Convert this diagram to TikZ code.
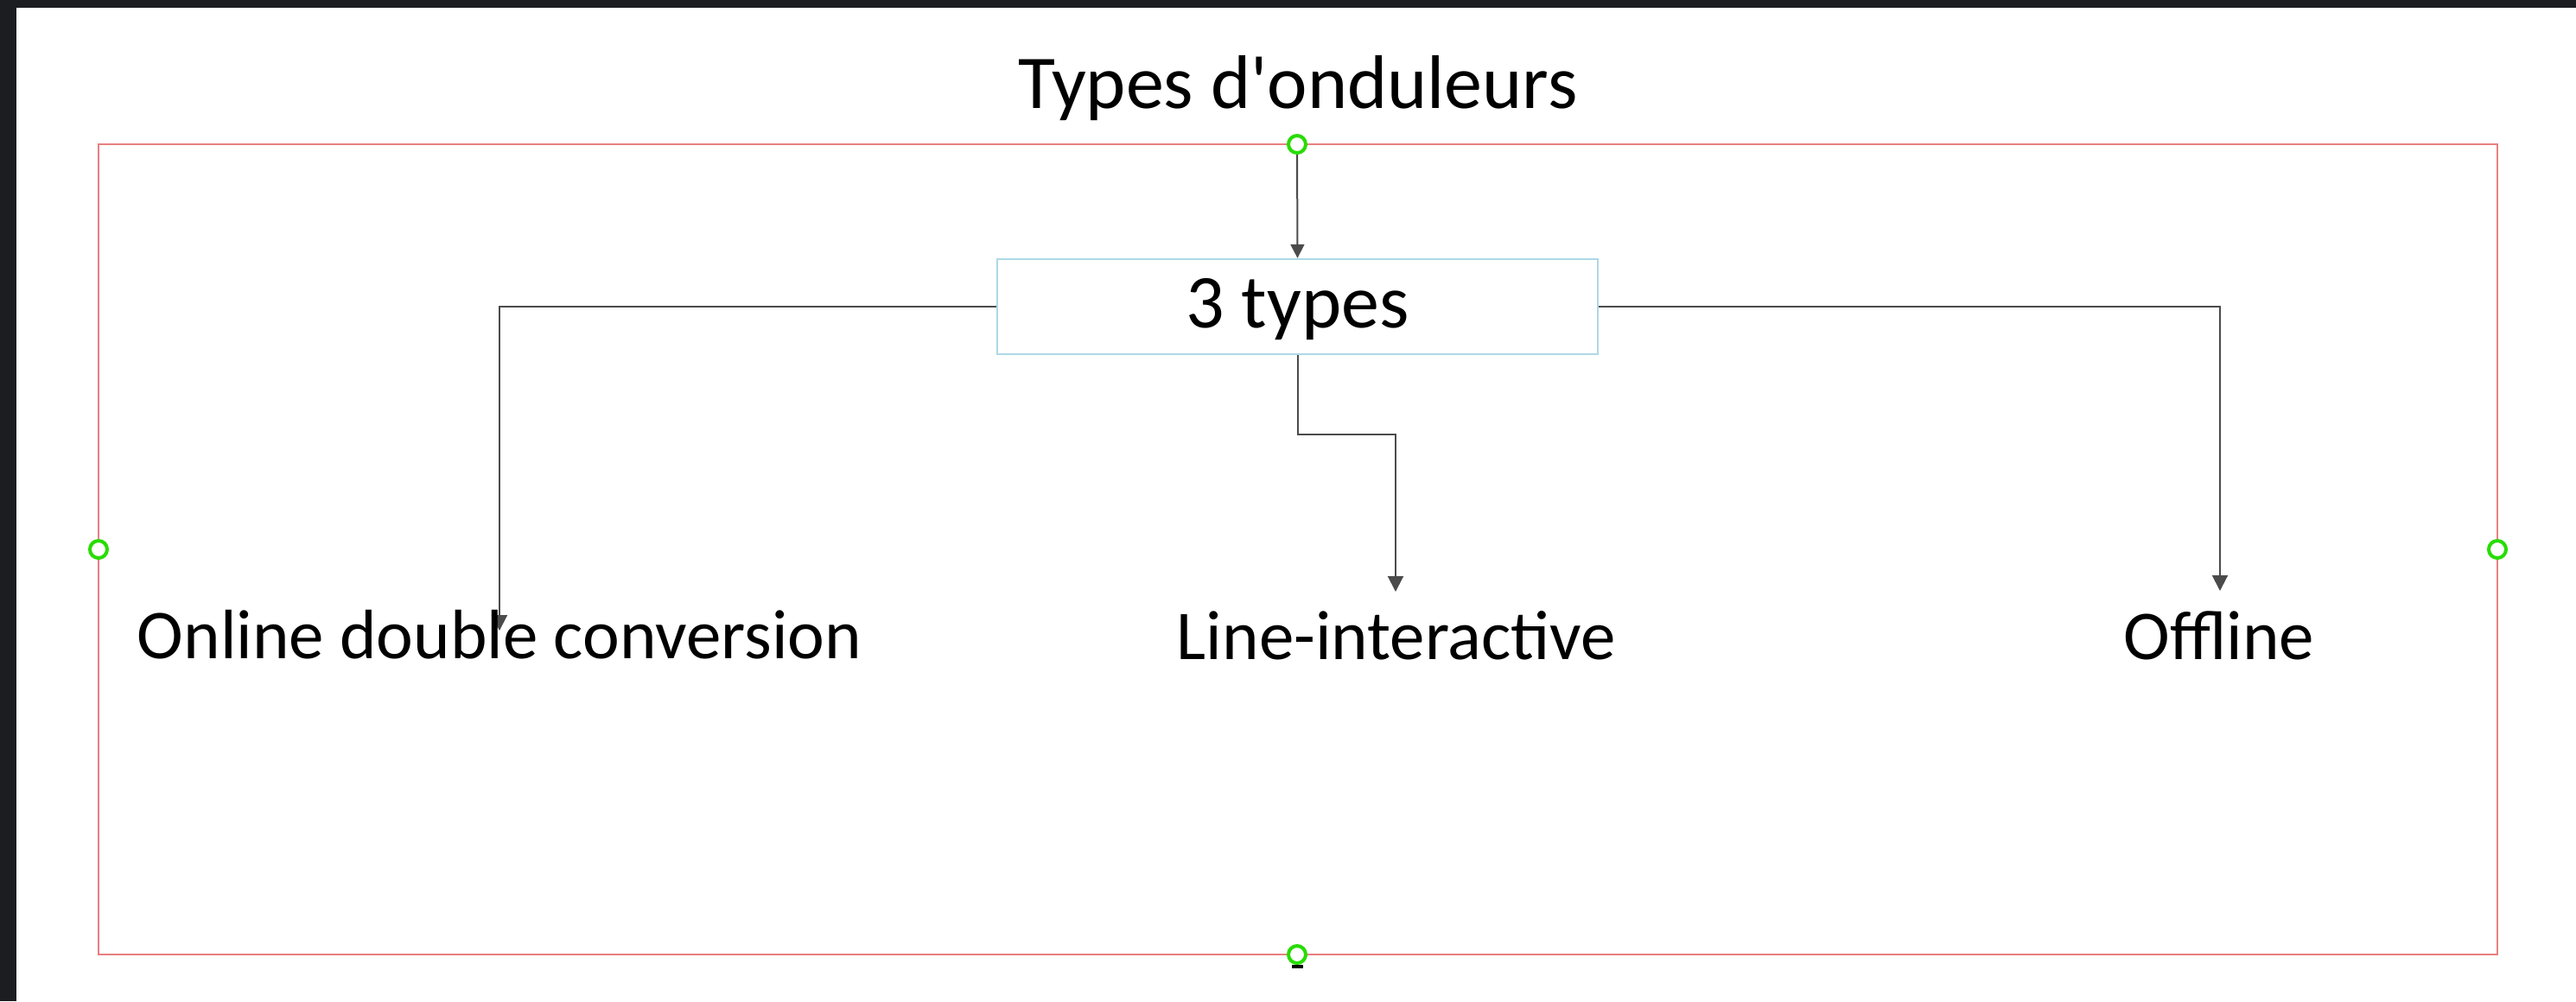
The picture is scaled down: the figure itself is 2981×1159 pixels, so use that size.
\documentclass[tikz,border=0pt]{standalone}
\usepackage{fontspec}
\setmainfont{Carlito}[Ligatures=TeXOff]
\usetikzlibrary{arrows.meta}
\definecolor{framered}{RGB}{232,128,128}
\definecolor{boxblue}{RGB}{173,216,230}
\definecolor{handlegreen}{RGB}{40,220,0}
\definecolor{darkbg}{RGB}{28,29,32}
\definecolor{conngray}{RGB}{75,75,75}
\begin{document}
\begin{tikzpicture}[x=0.25pt,y=-0.25pt,
  handle/.style={circle, draw=handlegreen, line width=1pt, fill=white, minimum size=5pt, inner sep=0pt},
  typebox/.style={draw=boxblue, line width=0.6pt, minimum width=173.75pt, minimum height=27.5pt, inner sep=0pt,
    font=\fontsize{22}{26}\selectfont, text height=14.25pt, text depth=2.25pt},
  titletext/.style={anchor=base, font=\fontsize{22}{26}\selectfont, inner sep=0pt},
  label/.style={anchor=base, font=\fontsize{20.25}{24}\selectfont, inner sep=0pt},
  conn/.style={draw=conngray, line width=0.5pt, -{Triangle[length=4.5pt,width=4.5pt]}}]
\fill[white] (0,0) rectangle (2981,1159);
\useasboundingbox (0,0) rectangle (2981,1159);
\fill[darkbg] (0,0) rectangle (2981,9);
\fill[darkbg] (0,0) rectangle (19,1159);
% frame
\draw[framered, line width=0.5pt] (114,167) rectangle (2890,1105);
% title
\node[titletext] (title) at (1502,125) {Types d'onduleurs};
% central box
\node[typebox] (box) at (1501.5,355) {3 types};
% handles
\node[handle] (ctop) at (1501,167) {};
\node[handle] (cleft) at (114,636) {};
\node[handle] (cright) at (2890,636) {};
\node[handle] (cbottom) at (1501,1105) {};
\draw[black, line width=0.8pt] (1495,1119) -- (1508,1119);
% connector end points
\coordinate (a1) at (578,730);
\coordinate (m1) at (1615,503);
\coordinate (a2) at (1615,685);
\coordinate (a3) at (2569,684);
% connectors
\draw[conn, -{Triangle[length=4pt,width=4pt]}] (ctop) -- (box.north);
\draw[conn] (box.west) -| (a1);
\draw[conn] (box.south) |- (m1) -- (a2);
\draw[conn] (box.east) -| (a3);
% labels
\node[label] (online) at (578,762) {Online double conversion};
\node[label] (lineint) at (1616,763) {Line-interactive};
\node[label] (offline) at (2568,763) {Offline};
\end{tikzpicture}
\end{document}
